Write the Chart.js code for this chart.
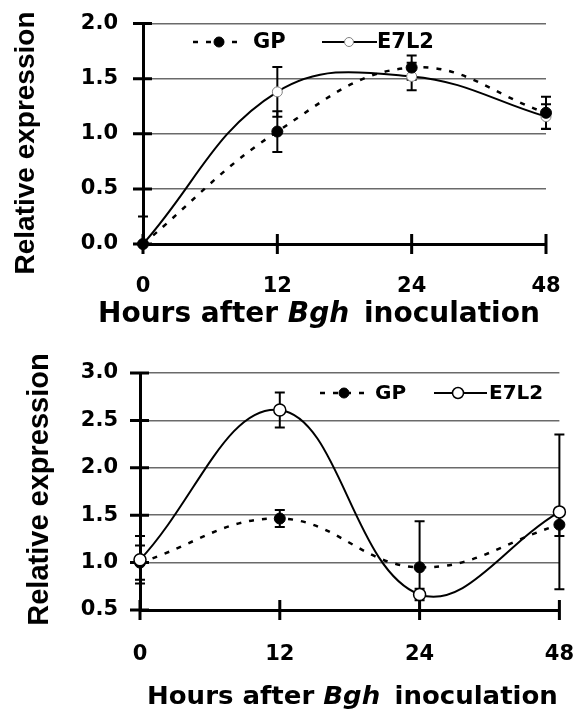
<!DOCTYPE html>
<html>
<head>
<meta charset="utf-8">
<title>Relative expression after Bgh inoculation</title>
<script src="https://cdn.jsdelivr.net/npm/chart.js@4.4.0/dist/chart.umd.min.js"></script>
<style>
	html, body { margin: 0; padding: 0; background: #fff; }
	#page { position: relative; width: 574px; height: 711px; overflow: hidden; }
	.box { position: absolute; left: 0; }
	.xtitle {
		position: absolute;
		font-family: 'DejaVu Sans', sans-serif;
		font-weight: bold;
		white-space: nowrap;
		color: #000;
		transform-origin: left center;
	}
	.xtitle i { margin-right: 5px; }
	.ytitle {
		position: absolute;
		width: 300px;
		font-family: 'Liberation Sans', Arial, sans-serif;
		font-weight: bold;
		white-space: nowrap;
		text-align: center;
		color: #000;
		transform: rotate(-90deg);
	}
</style>
</head>
<body>
<div id="page">
	<div class="box" style="top:0"><canvas id="topChart" width="574" height="340"></canvas></div>
	<div class="box" style="top:340px"><canvas id="bottomChart" width="574" height="371"></canvas></div>

	<div class="ytitle" style="left:-125px;top:129px;height:28px;line-height:28px;font-size:28px">Relative expression</div>
	<div class="xtitle" style="left:98px;top:299px;font-size:28px;line-height:28px">Hours after <i>Bgh</i> inoculation</div>

	<div class="ytitle" style="left:-112px;top:475px;height:29px;line-height:29px;font-size:29px">Relative expression</div>
	<div class="xtitle" style="left:147px;top:683px;font-size:25px;line-height:25px;transform:scaleX(1.04)">Hours after <i>Bgh</i> inoculation</div>
</div>

<script>
// hours after inoculation (category axis)
const hours = ['0', '12', '24', '48']

// upper panel
const gpTop = [0, 1.02, 1.6, 1.19]
const gpTopErr = [0.25, 0.185, 0.11, 0.145]
const e7l2Top = [0, 1.38, 1.52, 1.155]
const e7l2TopErr = [0, 0.225, 0.125, 0.113]
const topTicks = [0, 0.5, 1.0, 1.5, 2.0]

// lower panel
const gpBottom = [1.0, 1.465, 0.95, 1.4]
const gpBottomErr = [0.18, 0.09, 0.487, 0.12]
const e7l2Bottom = [1.03, 2.61, 0.664, 1.535]
const e7l2BottomErr = [0.25, 0.185, 0.06, 0.817]
const bottomTicks = [0.5, 1.0, 1.5, 2.0, 2.5, 3.0]

const tickFont = { family: 'DejaVu Sans', weight: 'bold', size: 21 }
const clear = 'rgba(0,0,0,0)'

// thick tick marks that cross both axes
const crossTicks = {
	id: 'crossTicks',
	beforeDatasetsDraw(chart) {
		const { ctx, scales: { x, y } } = chart
		ctx.save()
		ctx.strokeStyle = '#000'
		ctx.lineWidth = 3
		ctx.beginPath()
		y.ticks.forEach((t, i) => {
			const py = y.getPixelForTick(i)
			ctx.moveTo(x.left - 10, py)
			ctx.lineTo(x.left + 9, py)
		})
		x.ticks.forEach((t, i) => {
			const px = x.getPixelForTick(i)
			ctx.moveTo(px, y.bottom - 10)
			ctx.lineTo(px, y.bottom + 10)
		})
		ctx.stroke()
		ctx.restore()
	},
}

// +/- error bars, read from dataset.errors
const errorBars = {
	id: 'errorBars',
	beforeDatasetsDraw(chart) {
		const { ctx, chartArea, scales: { y } } = chart
		ctx.save()
		ctx.beginPath()
		ctx.rect(chartArea.left - 10, chartArea.top - 2, chartArea.right - chartArea.left + 20, chartArea.bottom - chartArea.top + 2)
		ctx.clip()
		ctx.strokeStyle = '#000'
		ctx.lineWidth = 2
		chart.data.datasets.forEach((ds, di) => {
			const meta = chart.getDatasetMeta(di)
			ds.errors.forEach((e, i) => {
				if (!e) return
				const px = meta.data[i].x
				const hi = y.getPixelForValue(ds.data[i] + e)
				const lo = y.getPixelForValue(ds.data[i] - e)
				ctx.beginPath()
				ctx.moveTo(px, hi)
				ctx.lineTo(px, lo)
				ctx.moveTo(px - 5, hi)
				ctx.lineTo(px + 5, hi)
				ctx.moveTo(px - 5, lo)
				ctx.lineTo(px + 5, lo)
				ctx.stroke()
			})
		})
		ctx.restore()
	},
}

// legend with line + marker samples, placed inside the plot
function lineLegend(y, items, fontSize) {
	return {
		id: 'lineLegend',
		afterDraw(chart) {
			const { ctx } = chart
			ctx.save()
			items.forEach((it, i) => {
				const ds = chart.data.datasets[i]
				ctx.strokeStyle = '#000'
				ctx.lineWidth = ds.borderWidth
				ctx.setLineDash(ds.borderDash || [])
				ctx.beginPath()
				ctx.moveTo(it.x1, y)
				ctx.lineTo(it.x2, y)
				ctx.stroke()
				ctx.setLineDash([])
				ctx.beginPath()
				ctx.arc(it.mx, y, ds.pointRadius - 0.5, 0, Math.PI * 2)
				ctx.fillStyle = ds.pointBackgroundColor
				ctx.fill()
				ctx.lineWidth = ds.pointBorderWidth
				ctx.strokeStyle = ds.pointBorderColor
				ctx.stroke()
				ctx.fillStyle = '#000'
				ctx.font = 'bold ' + fontSize + 'px "DejaVu Sans"'
				ctx.textBaseline = 'middle'
				ctx.fillText(ds.label, it.tx, y + 1)
			})
			ctx.restore()
		},
	}
}

function makeChart(id, cfg) {
	return new Chart(document.getElementById(id), {
		type: 'line',
		data: {
			labels: hours,
			datasets: cfg.datasets,
		},
		options: {
			responsive: false,
			animation: false,
			events: [],
			layout: { padding: cfg.padding },
			plugins: {
				legend: { display: false },
				tooltip: { enabled: false },
			},
			scales: {
				x: {
					type: 'category',
					offset: false,
					// invisible tick marks only set the label gap
					grid: { display: true, drawOnChartArea: false, tickColor: clear, tickLength: cfg.xGap },
					border: { display: true, color: '#000', width: 3 },
					ticks: { color: '#000', font: tickFont, padding: 0, maxRotation: 0 },
					afterFit(s) { s.height = cfg.xHeight },
				},
				y: {
					min: cfg.ticks[0],
					max: cfg.ticks[cfg.ticks.length - 1],
					afterBuildTicks(s) { s.ticks = cfg.ticks.map(v => ({ value: v })) },
					grid: { color: '#6a6a6a', lineWidth: 1.5, tickColor: clear, tickLength: cfg.yGap },
					border: { display: true, color: '#000', width: 3 },
					ticks: {
						color: '#000',
						font: tickFont,
						padding: 0,
						callback: v => Number(v).toFixed(1),
					},
					afterFit(s) { s.width = cfg.yWidth },
				},
			},
		},
		plugins: [crossTicks, errorBars, cfg.legend],
	})
}

makeChart('topChart', {
	ticks: topTicks,
	padding: { top: 23.5, right: 28, left: 0, bottom: 0 },
	yWidth: 143,
	xHeight: 96,
	xGap: 30,
	yGap: 25,
	legend: lineLegend(42, [
		{ x1: 193, x2: 243, mx: 219, tx: 253 },
		{ x1: 322, x2: 377, mx: 349, tx: 377 },
	], 21),
	datasets: [
		{
			label: 'GP',
			data: gpTop,
			errors: gpTopErr,
			borderColor: '#000',
			borderWidth: 2.5,
			borderDash: [5, 8],
			pointRadius: 5.5,
			pointBackgroundColor: '#000',
			pointBorderColor: '#000',
			pointBorderWidth: 1,
			tension: 0.4,
			clip: false,
			order: 0,
		},
		{
			label: 'E7L2',
			data: e7l2Top,
			errors: e7l2TopErr,
			borderColor: '#000',
			borderWidth: 2,
			pointRadius: 5,
			pointBackgroundColor: '#fff',
			pointBorderColor: '#808080',
			pointBorderWidth: 1,
			tension: 0.4,
			clip: false,
			order: 1,
		},
	],
})

makeChart('bottomChart', {
	ticks: bottomTicks,
	padding: { top: 33, right: 13, left: 0, bottom: 0 },
	yWidth: 140,
	xHeight: 101,
	xGap: 32,
	yGap: 22,
	legend: lineLegend(53, [
		{ x1: 320, x2: 367, mx: 344, tx: 375 },
		{ x1: 434, x2: 487, mx: 458, tx: 489 },
	], 20),
	datasets: [
		{
			label: 'GP',
			data: gpBottom,
			errors: gpBottomErr,
			borderColor: '#000',
			borderWidth: 2.5,
			borderDash: [5, 8],
			pointRadius: 5.5,
			pointBackgroundColor: '#000',
			pointBorderColor: '#000',
			pointBorderWidth: 1,
			tension: 0.4,
			clip: false,
			order: 1,
		},
		{
			label: 'E7L2',
			data: e7l2Bottom,
			errors: e7l2BottomErr,
			borderColor: '#000',
			borderWidth: 2,
			pointRadius: 6,
			pointBackgroundColor: '#fff',
			pointBorderColor: '#000',
			pointBorderWidth: 1.5,
			tension: 0.4,
			clip: false,
			order: 0,
		},
	],
})
</script>
</body>
</html>
